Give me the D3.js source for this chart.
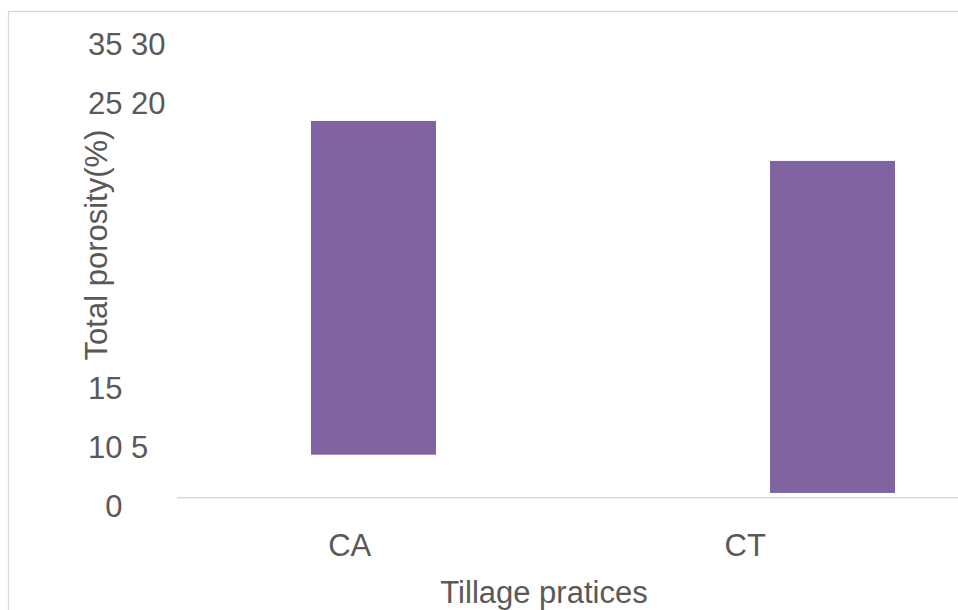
<!DOCTYPE html>
<html>
<head>
<meta charset="utf-8">
<script src="https://cdn.jsdelivr.net/npm/d3@7"></script>
<style>
  html, body { margin: 0; padding: 0; background: #fff; }
  svg { display: block; }
  text { font-family: Arial, "Liberation Sans", sans-serif; fill: #595959; }
</style>
</head>
<body>
<svg id="chart" width="958" height="610"></svg>
<script>
// Tillage practices and the floating porosity ranges (%) for each
const categories = ["CA", "CT"];
const barLow  = [3.26, 0.36];
const barHigh = [28.56, 25.53];

// Value axis labels, as they are printed in stacked lines
const tickLabelsUpper = ["35 30", "25 20"];
const tickLabelsLower = ["15", "10 5", "0"];
const yDomain = [0, 35];

const yTitle = "Total porosity(%)";
const xTitle = "Tillage pratices";

const W = 958, H = 610;
const FONT = 31;
const svg = d3.select("#chart");

// Chart frame
svg.append("rect")
  .attr("x", 8.5).attr("y", 11.5)
  .attr("width", W + 20).attr("height", H + 40)
  .attr("fill", "#fff")
  .attr("stroke", "#d9d9d9")
  .attr("stroke-width", 1.3);

// Scales
const y = d3.scaleLinear().domain(yDomain).range([497.7, 36]);
const xBars = d3.scaleBand().domain(categories)
  .range([311, 895]).paddingInner(0.7277).paddingOuter(0);
const xLabels = d3.scaleBand().domain(categories).range([152, 943]);

// Bars
const rows = categories.map((c, i) => ({ c, lo: barLow[i], hi: barHigh[i] }));
svg.append("g").selectAll("rect")
  .data(rows)
  .join("rect")
  .attr("x", d => xBars(d.c))
  .attr("width", xBars.bandwidth())
  .attr("y", d => y(d.hi))
  .attr("height", d => y(d.lo) - y(d.hi))
  .attr("fill", "#8064A2");

// Category axis
const xAxis = svg.append("g")
  .attr("transform", `translate(0,${y(0)})`)
  .call(d3.axisBottom(xLabels).tickSize(0).tickPadding(0));
xAxis.select(".domain").remove();
xAxis.selectAll("text")
  .attr("font-size", FONT)
  .attr("font-family", "Arial, 'Liberation Sans', sans-serif")
  .attr("fill", "#595959")
  .attr("dy", null)
  .attr("y", 58.3);

svg.append("line")
  .attr("x1", 177).attr("x2", W)
  .attr("y1", y(0)).attr("y2", y(0))
  .attr("stroke", "#d9d9d9")
  .attr("stroke-width", 1.6);

// Value axis labels: first number right-aligned, the rest following it
const labelRight = 122.5;
const lineStep = 59;
function drawTickLine(label, baseline) {
  const parts = label.split(" ");
  const g = svg.append("g").attr("class", "ytick");
  g.append("text")
    .attr("x", labelRight).attr("y", baseline)
    .attr("text-anchor", "end")
    .attr("font-size", FONT)
    .text(parts[0]);
  if (parts.length > 1) {
    g.append("text")
      .attr("x", labelRight + FONT * 0.278).attr("y", baseline)
      .attr("font-size", FONT)
      .text(parts.slice(1).join(" "));
  }
}
const topBaseline = y(yDomain[1]) + 19;
tickLabelsUpper.forEach((t, i) => drawTickLine(t, topBaseline + i * lineStep));
const bottomBaseline = y(0) + 19;
tickLabelsLower.forEach((t, i) =>
  drawTickLine(t, bottomBaseline - (tickLabelsLower.length - 1 - i) * lineStep));

// Axis titles
svg.append("text")
  .attr("transform", `translate(106.5,${(123 + 367) / 2}) rotate(-90)`)
  .attr("text-anchor", "middle")
  .attr("font-size", FONT)
  .text(yTitle);

svg.append("text")
  .attr("x", 544).attr("y", 602.7)
  .attr("text-anchor", "middle")
  .attr("font-size", FONT)
  .text(xTitle);
</script>
</body>
</html>
